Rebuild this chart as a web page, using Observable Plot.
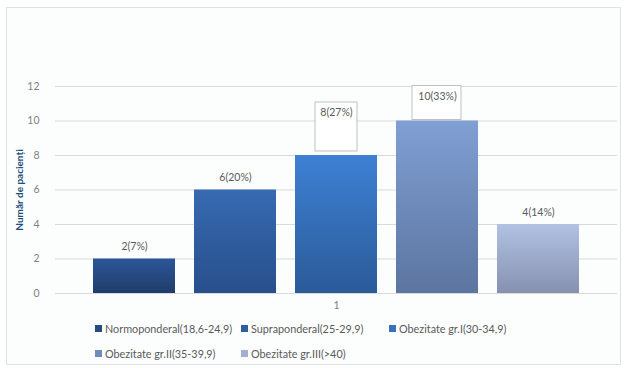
<!DOCTYPE html>
<html>
<head>
<meta charset="utf-8">
<script src="https://cdn.jsdelivr.net/npm/d3@7"></script>
<script src="https://cdn.jsdelivr.net/npm/@observablehq/plot@0.6"></script>
<style>
  html, body { margin: 0; padding: 0; background: #fff; }
  #wrap { position: relative; width: 627px; height: 368px; overflow: hidden; font-family: Lato, "Noto Sans", sans-serif; }
  #frame { position: absolute; left: 6px; top: 7px; width: 615px; height: 358px; border: 1px solid #dde4e8; box-sizing: border-box; background: #fcfefe; }
  #chart { position: absolute; left: 0; top: 0; }
  #legend { position: absolute; left: 95px; top: 319px; width: 460px; display: grid; grid-template-columns: 146px 148px auto; row-gap: 6px; font-size: 10.8px; color: #595959; }
  .item { display: flex; align-items: center; white-space: nowrap; height: 19px; }
  .sw { width: 7px; height: 7px; margin-right: 3px; }
</style>
</head>
<body>
<div id="wrap">
  <div id="frame"></div>
  <div id="chart"></div>
  <div id="legend"></div>
</div>
<script>
// ---- data ----
const categories = ["Normoponderal(18,6-24,9)", "Supraponderal(25-29,9)", "Obezitate gr.I(30-34,9)", "Obezitate gr.II(35-39,9)", "Obezitate gr.III(>40)"];
const counts = [2, 6, 8, 10, 4];
const percents = [7, 20, 27, 33, 14];
const boxedLabel = [false, false, true, true, false];
const groupLabel = "1";
const yTicks = [0, 2, 4, 6, 8, 10, 12];
const yLabel = "Număr de pacienți";
const colorsTop = ["#2c5699", "#376ab2", "#3e80d4", "#809fd3", "#b2c2e3"];
const colorsBottom = ["#1f3c6a", "#284f8b", "#2b5b98", "#5c75a0", "#8691b0"];
const legendColors = ["#264a82", "#305d9e", "#3571bc", "#6f8bbb", "#a2afcf"];

const data = categories.map((c, i) => ({
  name: c, value: counts[i], pct: percents[i], boxed: boxedLabel[i],
  label: `${counts[i]}(${percents[i]}%)`, grad: `url(#grad${i})`, group: groupLabel
}));

const defsMark = () => {
  const defs = d3.create("svg:defs");
  categories.forEach((c, i) => {
    const g = defs.append("linearGradient").attr("id", `grad${i}`)
      .attr("x1", 0).attr("y1", 0).attr("x2", 0).attr("y2", 1);
    g.append("stop").attr("offset", "0%").attr("stop-color", colorsTop[i]);
    g.append("stop").attr("offset", "100%").attr("stop-color", colorsBottom[i]);
  });
  return defs.node();
};

const chart = Plot.plot({
  width: 627,
  height: 315,
  marginLeft: 55,
  marginRight: 10,
  marginTop: 86,
  marginBottom: 22,
  style: { fontFamily: "Lato, 'Noto Sans', sans-serif", fontSize: "10.5px", color: "#7f7f7f", background: "transparent" },
  color: { type: "identity" },
  fx: { domain: [groupLabel], paddingInner: 0, paddingOuter: 0, axis: "bottom", label: null, tickSize: 0, tickPadding: 8 },
  x: { domain: categories, paddingInner: 0.19, paddingOuter: 0.35, axis: null },
  y: { domain: [0, 12], ticks: yTicks, tickSize: 0, tickPadding: 16, label: yLabel, labelAnchor: "center", labelOffset: 40 },
  marks: [
    defsMark,
    Plot.ruleY(yTicks, { stroke: "#d9d9d9", strokeWidth: 1 }),
    Plot.barY(data, { fx: "group", x: "name", y: "value", fill: "grad" }),
    Plot.rect(data.filter(d => d.name === categories[2]), {
      fx: "group", x: "name", y1: "value", y2: "value",
      insetLeft: 20, insetRight: 20, insetTop: -53, insetBottom: 4,
      fill: "white", stroke: "#bfbfbf", strokeWidth: 1
    }),
    Plot.rect(data.filter(d => d.name === categories[3]), {
      fx: "group", x: "name", y1: "value", y2: "value",
      insetLeft: 16, insetRight: 17, insetTop: -35, insetBottom: 1,
      fill: "white", stroke: "#bfbfbf", strokeWidth: 1
    }),
    Plot.text(data.filter(d => !d.boxed), { fx: "group", x: "name", y: "value", text: "label", dy: -12, fill: "#595959" }),
    Plot.text(data.filter(d => d.name === categories[2]), { fx: "group", x: "name", y: "value", text: "label", dy: -43, fill: "#595959" }),
    Plot.text(data.filter(d => d.name === categories[3]), { fx: "group", x: "name", y: "value", text: "label", dy: -24, fill: "#595959" })
  ]
});

document.getElementById("chart").appendChild(chart);

// style y-axis label (remove arrow, bold blue)
const yl = d3.select(chart).selectAll("[aria-label='y-axis label']");
yl.attr("fill", "#1f4e79").attr("font-weight", "bold").attr("font-size", "10px");
yl.selectAll("text").text(yLabel).attr("fill", "#1f4e79");

// legend
const legend = d3.select("#legend");
categories.forEach((c, i) => {
  const it = legend.append("div").attr("class", "item");
  it.append("div").attr("class", "sw").style("background", legendColors[i]);
  it.append("span").text(c);
});
</script>
</body>
</html>
